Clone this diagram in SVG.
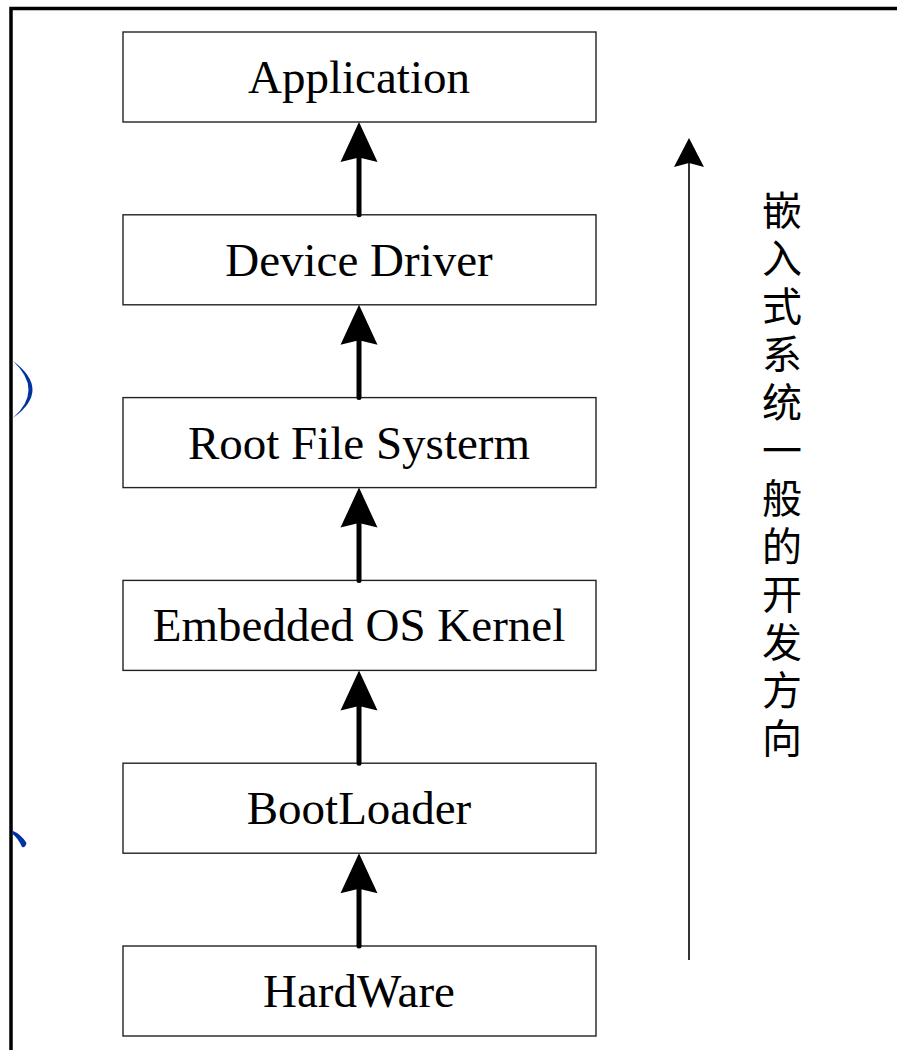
<svg xmlns="http://www.w3.org/2000/svg" width="897" height="1050" viewBox="0 0 897 1050">
<style>
.box{fill:#fff;stroke:#222;stroke-width:1.4}
.lbl{font-family:"Liberation Serif","Times New Roman",serif;font-size:47px;text-anchor:middle;fill:#000}
.shaft{stroke:#000;stroke-width:5;stroke-linecap:round;fill:none}
.cjk{font-family:"Noto Sans CJK SC","Noto Sans CJK JP",sans-serif;font-size:40px;fill:#000;writing-mode:vertical-rl;letter-spacing:8px}
</style>
<defs>
<path id="head" d="M0,0 L-18.5,40 L0,35.5 L18.5,40 Z" fill="#000"/>
</defs>
<rect width="897" height="1050" fill="#fff"/>
<path d="M11,1050 V8.5 H897" fill="none" stroke="#000" stroke-width="3.5"/>
<path d="M13,361 Q52,390 13,418 Q44,390 13,361 Z" fill="#0033a0"/>
<path d="M12,830.5 Q21,834 26.5,843 Q25.5,848 22,847 Q18,838 12,833.5 Z" fill="#0033a0"/>
<g id="node-application"><rect class="box" x="123" y="32" width="473" height="90"/><text class="lbl" x="359" y="93">Application</text></g>
<g id="node-device-driver"><rect class="box" x="123" y="214.8" width="473" height="90"/><text class="lbl" x="359" y="275.8">Device Driver</text></g>
<g id="node-root-fs"><rect class="box" x="123" y="397.6" width="473" height="90"/><text class="lbl" x="359" y="458.6">Root File Systerm</text></g>
<g id="node-kernel"><rect class="box" x="123" y="580.4" width="473" height="90"/><text class="lbl" x="359" y="641.4">Embedded OS Kernel</text></g>
<g id="node-bootloader"><rect class="box" x="123" y="763.2" width="473" height="90"/><text class="lbl" x="359" y="824.2">BootLoader</text></g>
<g id="node-hardware"><rect class="box" x="123" y="946" width="473" height="90"/><text class="lbl" x="359" y="1007">HardWare</text></g>
<g id="connectors">
<line class="shaft" x1="359" y1="214.8" x2="359" y2="155"/><use href="#head" x="359" y="122"/>
<line class="shaft" x1="359" y1="397.6" x2="359" y2="337.8"/><use href="#head" x="359" y="304.8"/>
<line class="shaft" x1="359" y1="580.4" x2="359" y2="520.6"/><use href="#head" x="359" y="487.6"/>
<line class="shaft" x1="359" y1="763.2" x2="359" y2="703.4"/><use href="#head" x="359" y="670.4"/>
<line class="shaft" x1="359" y1="946" x2="359" y2="886.2"/><use href="#head" x="359" y="853.2"/>
<line x1="689" y1="960" x2="689" y2="160" stroke="#000" stroke-width="1.6"/>
<path d="M689,138 L674,167 L689,163 L704,167 Z" fill="#000"/>
</g>
<g id="side-label">
<text class="cjk" x="782" y="190">嵌入式系统一般的开发方向</text>
</g>
</svg>
